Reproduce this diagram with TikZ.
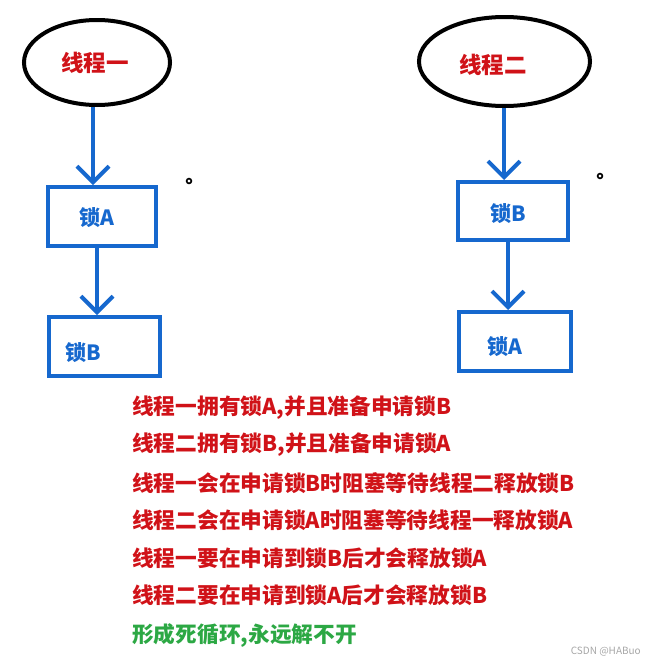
\documentclass[tikz,border=0pt]{standalone}
\usepackage{fontspec}
\setmainfont{Noto Sans CJK SC}
\usepackage{tikz}
\usetikzlibrary{arrows.meta,shapes.geometric}
\definecolor{threadred}{RGB}{208,18,24}
\definecolor{lockblue}{RGB}{22,104,206}
\definecolor{loopgreen}{RGB}{44,168,68}

\begin{document}
\begin{tikzpicture}[x=1pt,y=-1pt,
  thread/.style={ellipse, draw=black, line width=4pt, inner sep=0pt},
  threadname/.style={text=threadred, font=\bfseries\fontsize{22.5}{24}\selectfont},
  lockbox/.style={draw=lockblue, line width=4pt, inner sep=0pt},
  locktext/.style={text=lockblue, font=\bfseries\fontsize{21}{23}\selectfont},
  flow/.style={draw=lockblue, line width=4pt, -{Straight Barb[length=16pt,width=32pt,line width=4pt]}},
  note/.style={anchor=west, inner sep=0pt, text=threadred, font=\bfseries\fontsize{21.7}{24}\selectfont}]
\useasboundingbox (0,0) rectangle (647,664);
% thread one
\node[thread, minimum width=146pt, minimum height=85pt] (t1) at (97,62.5) {};
\node[threadname] (t1name) at (95,63) {线程一};
\node[lockbox, minimum width=108pt, minimum height=59pt] (a1) at (102,216.5) {};
\node[locktext] (a1name) at (97,218) {锁A};
\node[lockbox, minimum width=111pt, minimum height=59pt] (b1) at (104.5,346.5) {};
\node[locktext] (b1name) at (83,353) {锁B};
\draw[flow] ([xshift=-4pt]t1.south) -- ([xshift=-9pt]a1.north);
\draw[flow] ([xshift=-5pt]a1.south) -- ([xshift=-7.5pt]b1.north);
% thread two
\node[thread, minimum width=171pt, minimum height=89pt] (t2) at (504.5,61.5) {};
\node[threadname] (t2name) at (493,65) {线程二};
\node[lockbox, minimum width=110pt, minimum height=58pt] (b2) at (513,211) {};
\node[locktext] (b2name) at (508,214) {锁B};
\node[lockbox, minimum width=112pt, minimum height=59pt] (a2) at (515,341.5) {};
\node[locktext] (a2name) at (505,347) {锁A};
\draw[flow] ([xshift=-0.5pt]t2.south) -- ([xshift=-9pt]b2.north);
\draw[flow] ([xshift=-5pt]b2.south) -- ([xshift=-7pt]a2.north);
% stray dots
\draw[line width=1.6pt] (189,181) circle (2.4pt);
\draw[line width=1.6pt] (600,176) circle (2.4pt);
% explanation
\node[note] (n1) at (132,408) {线程一拥有锁A,并且准备申请锁B};
\node[note] (n2) at (132,445) {线程二拥有锁B,并且准备申请锁A};
\node[note] (n3) at (132,483) {线程一会在申请锁B时阻塞等待线程二释放锁B};
\node[note] (n4) at (132,520) {线程二会在申请锁A时阻塞等待线程一释放锁A};
\node[note] (n5) at (132,558) {线程一要在申请到锁B后才会释放锁A};
\node[note] (n6) at (132,595) {线程二要在申请到锁A后才会释放锁B};
\node[note, text=loopgreen] (n7) at (132,635) {形成死循环,永远解不开};
\node[anchor=east, inner sep=0pt, text=black!35, font=\fontsize{10}{12}\selectfont] (mark) at (641,652) {CSDN @HABuo};
\end{tikzpicture}
\end{document}
